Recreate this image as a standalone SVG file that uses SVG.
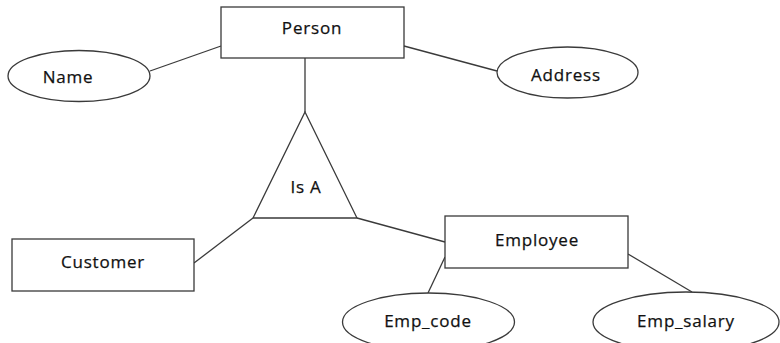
<svg xmlns="http://www.w3.org/2000/svg" width="780" height="343" viewBox="0 0 780 343">
<style>
.s{fill:#fff;stroke:#3a3a3a;stroke-width:1.3}
.c line{stroke:#3a3a3a;stroke-width:1.3}
text{font-family:"Open Sans","Noto Sans",sans-serif;font-size:17px;fill:#111;stroke:#111;stroke-width:0.25;text-anchor:middle;letter-spacing:0.8px}
</style>
<rect width="780" height="343" fill="#fff"/>
<g class="c" id="connectors">
<line x1="221" y1="46" x2="150" y2="71"/>
<line x1="404" y1="46" x2="497" y2="71"/>
<line x1="305" y1="58" x2="305" y2="112"/>
<line x1="253" y1="218" x2="194" y2="263"/>
<line x1="357" y1="218" x2="445" y2="242"/>
<line x1="445" y1="257" x2="428" y2="293"/>
<line x1="628" y1="254" x2="692" y2="292"/>
</g>
<g id="person"><rect class="s" x="221" y="7" width="183" height="51"/><text x="312" y="34">Person</text></g>
<g id="name"><ellipse class="s" cx="79" cy="76" rx="71" ry="25.5"/><text x="68" y="83">Name</text></g>
<g id="address"><ellipse class="s" cx="567.5" cy="72.5" rx="70.5" ry="25.5"/><text x="566" y="81">Address</text></g>
<g id="isa"><polygon class="s" points="305,112 357,218 253,218"/><text x="306" y="193">Is A</text></g>
<g id="customer"><rect class="s" x="12" y="239" width="182" height="52"/><text x="103" y="268">Customer</text></g>
<g id="employee"><rect class="s" x="445" y="216" width="183" height="52"/><text x="537" y="246">Employee</text></g>
<g id="emp_code"><ellipse class="s" cx="428.5" cy="322" rx="86" ry="29"/><text x="428" y="327">Emp_code</text></g>
<g id="emp_salary"><ellipse class="s" cx="686" cy="322" rx="93" ry="30"/><text x="686" y="327">Emp_salary</text></g>
</svg>
